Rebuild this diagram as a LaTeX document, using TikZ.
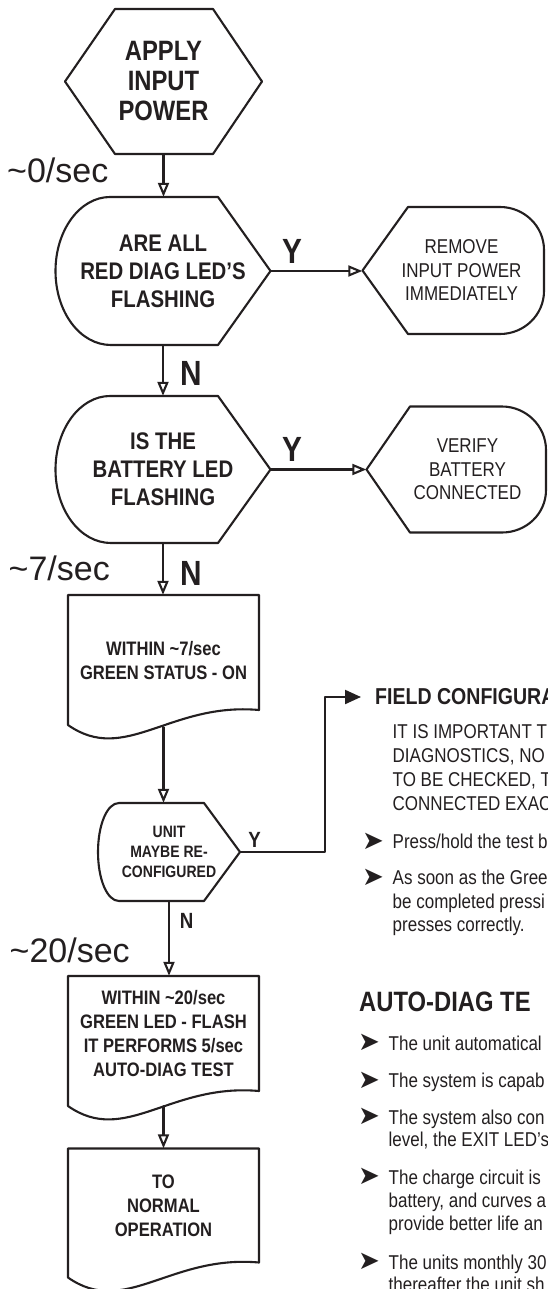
\documentclass[tikz,border=0pt]{standalone}
\usepackage{fontspec}
\setmainfont{Liberation Sans}[FakeStretch=0.85]
\newfontfamily\timefont{Liberation Sans}
\newfontfamily\markfont{DejaVu Sans}
\usetikzlibrary{arrows.meta,calc,positioning}
\definecolor{diagInk}{HTML}{231F20}
\definecolor{diagPaper}{HTML}{FFFFFF}

\begin{document}
\begin{tikzpicture}[x=1pt,y=-1pt,>=Latex,line cap=round,line join=round]
\path[fill=diagPaper] (0,0) rectangle (547,1289);
\useasboundingbox (0,0) rectangle (547,1289);
\tikzset{shapeline/.style={draw=diagInk,line width=2.1pt},flowline/.style={draw=diagInk,line width=2.1pt,-{Triangle[open,length=14pt,width=11pt]}},linkline/.style={draw=diagInk,line width=2.1pt,-{Triangle[length=16pt,width=14pt]}},txtbox/.style={inner sep=0pt,text=diagInk,align=center},bigcap/.style={txtbox,font=\bfseries\fontsize{28}{30}\selectfont},askcap/.style={txtbox,font=\bfseries\fontsize{24}{28}\selectfont},smallask/.style={txtbox,font=\bfseries\fontsize{16.5}{20}\selectfont},actcap/.style={txtbox,font=\fontsize{20}{23.5}\selectfont},stepcap/.style={txtbox,font=\bfseries\fontsize{19.5}{24}\selectfont},ynlbl/.style={anchor=base,inner sep=0pt,text=diagInk,font=\bfseries\fontsize{35}{35}\selectfont},smallyn/.style={ynlbl,font=\bfseries\fontsize{22}{22}\selectfont},timelbl/.style={anchor=base west,inner sep=0pt,text=diagInk,font=\timefont\fontsize{34}{34}\selectfont},sectionhd/.style={anchor=west,inner xsep=14pt,inner ysep=0pt,text=diagInk,font=\bfseries\fontsize{23}{23}\selectfont},bodytxt/.style={anchor=north west,inner sep=0pt,text=diagInk,align=left,font=\fontsize{20}{23.7}\selectfont},bulletmark/.style={anchor=west,inner sep=0pt,text=diagInk,font=\markfont\fontsize{26}{26}\selectfont}}
\node[bigcap,minimum width=197pt,minimum height=145pt] (apply) at (163.5,81.5) {APPLY\\INPUT\\POWER};
\draw[shapeline] (65,81.5) -- (115,9) -- (213,9) -- (262,81.5) -- (213,154) -- (115,154) -- cycle;
\node[askcap,minimum width=215pt,minimum height=148pt] (redled) at (163,271) {ARE ALL\\RED DIAG LED'S\\FLASHING};
\draw[shapeline] (110,197) -- (218,197) -- (270.5,271) -- (218,345) -- (111,345) .. controls (80,345) and (55.5,312) .. (55.5,271) .. controls (55.5,230) and (80,197) .. (110,197) -- cycle;
\node[actcap,minimum width=198pt,minimum height=127pt] (remove) at (461.5,270.5) {REMOVE\\INPUT POWER\\IMMEDIATELY};
\draw[shapeline] (362.5,270.5) -- (408,207) -- (500,207) .. controls (524,207) and (544,226) .. (544,250) -- (544,291) .. controls (544,315) and (524,334) .. (500,334) -- (408,334) -- cycle;
\node[askcap,minimum width=215pt,minimum height=147pt] (battery) at (163,469.5) {IS THE\\BATTERY LED\\FLASHING};
\draw[shapeline] (110,396) -- (218,396) -- (270.5,469.5) -- (218,543) -- (111,543) .. controls (80,543) and (55.5,510) .. (55.5,469.5) .. controls (55.5,429) and (80,396) .. (110,396) -- cycle;
\node[actcap,minimum width=202pt,minimum height=126pt] (verify) at (467.5,469.5) {VERIFY\\BATTERY\\CONNECTED};
\draw[shapeline] (366.5,469.5) -- (410,406.5) -- (502,406.5) .. controls (526,406.5) and (546,426) .. (546,450) -- (546,490) .. controls (546,514) and (526,532.5) .. (502,532.5) -- (410,532.5) -- cycle;
\node[stepcap,minimum width=191pt,minimum height=132pt] (green7) at (163.5,661) {WITHIN \textasciitilde 7/sec\\GREEN STATUS - ON};
\draw[shapeline] (68,595) -- (259,595) -- (259,710) .. controls (170,702) and (125,765) .. (68,725) -- cycle;
\node[smallask,minimum width=142pt,minimum height=98pt] (reconf) at (169,852) {UNIT\\MAYBE RE-\\CONFIGURED};
\draw[shapeline] (119,803) -- (204,803) -- (240,852) -- (204,901) -- (119,901) .. controls (107,901) and (98,879) .. (98,852) .. controls (98,825) and (107,803) .. (119,803) -- cycle;
\node[stepcap,minimum width=191pt,minimum height=115pt] (green20) at (163.5,1033.5) {WITHIN \textasciitilde 20/sec\\GREEN LED - FLASH\\IT PERFORMS 5/sec\\AUTO-DIAG TEST};
\draw[shapeline] (68,976) -- (259,976) -- (259,1091) .. controls (170,1083) and (125,1146) .. (68,1106) -- cycle;
\node[stepcap,minimum width=191pt,minimum height=114pt] (normal) at (163.5,1205.5) {TO\\NORMAL\\OPERATION};
\draw[shapeline] (68,1148.5) -- (259,1148.5) -- (259,1262.5) .. controls (170,1254.5) and (125,1317.5) .. (68,1277.5) -- cycle;
\draw[flowline] (apply.south) -- (apply.south |- redled.north);
\draw[flowline] (redled.east) -- (redled.east -| remove.west);
\draw[flowline] (redled.south) -- (redled.south |- battery.north);
\draw[flowline] (battery.east) -- (battery.east -| verify.west);
\draw[flowline] (battery.south) -- (battery.south |- green7.north);
\draw[flowline] (green7.south) -- (green7.south |- reconf.north);
\draw[flowline] (reconf.south) -- (reconf.south |- green20.north);
\draw[flowline] ([yshift=-15pt]green20.south) -- (normal.north);
\node[ynlbl] (yes1) at (292,263) {Y};
\node[ynlbl] (no1) at (191,385) {N};
\node[ynlbl] (yes2) at (292,461.5) {Y};
\node[ynlbl] (no2) at (191,585) {N};
\node[smallyn] (yes3) at (254.5,847) {Y};
\node[smallyn] (no3) at (186.5,928) {N};
\node[timelbl] (time0) at (7,182.5) {\textasciitilde 0/sec};
\node[timelbl] (time7) at (8.5,580) {\textasciitilde 7/sec};
\node[timelbl] (time20) at (9.5,962) {\textasciitilde 20/sec};
\node[sectionhd] (fieldhd) at (361,697) {FIELD CONFIGURA};
\coordinate (cfgbend) at (325,697);
\draw[linkline] (reconf.east) -| (cfgbend) -- (fieldhd.west);
\node[bodytxt] (fieldtxt) at (392.5,724.8) {IT IS IMPORTANT T\\DIAGNOSTICS, NO\\TO BE CHECKED, T\\CONNECTED EXAC};
\node[bulletmark] (fmark1) at (362,841) {➤};
\node[bodytxt] (ftxt1) at (392.5,833.8) {Press/hold the test b};
\node[bulletmark] (fmark2) at (362,877) {➤};
\node[bodytxt] (ftxt2) at (392.5,869.8) {As soon as the Gree\\be completed pressi\\presses correctly.};
\node[sectionhd,inner xsep=0pt,font=\bfseries\fontsize{28}{28}\selectfont] (autohd) at (359,1002) {AUTO-DIAG TE};
\node[bulletmark] (amark1) at (358,1042.7) {➤};
\node[bodytxt] (atxt1) at (388.5,1035.5) {The unit automatical};
\node[bulletmark] (amark2) at (358,1080) {➤};
\node[bodytxt] (atxt2) at (388.5,1072.8) {The system is capab};
\node[bulletmark] (amark3) at (358,1116.7) {➤};
\node[bodytxt,font=\fontsize{20}{22.5}\selectfont] (atxt3) at (388.5,1109.5) {The system also con\\level, the EXIT LED's};
\node[bulletmark] (amark4) at (358,1176.7) {➤};
\node[bodytxt,font=\fontsize{20}{23.3}\selectfont] (atxt4) at (388.5,1169.5) {The charge circuit is\\battery, and curves a\\provide better life an};
\node[bulletmark] (amark5) at (358,1261.7) {➤};
\node[bodytxt,font=\fontsize{20}{22.5}\selectfont] (atxt5) at (388.5,1254.5) {The units monthly 30\\thereafter the unit sh};
\end{tikzpicture}
\end{document}
